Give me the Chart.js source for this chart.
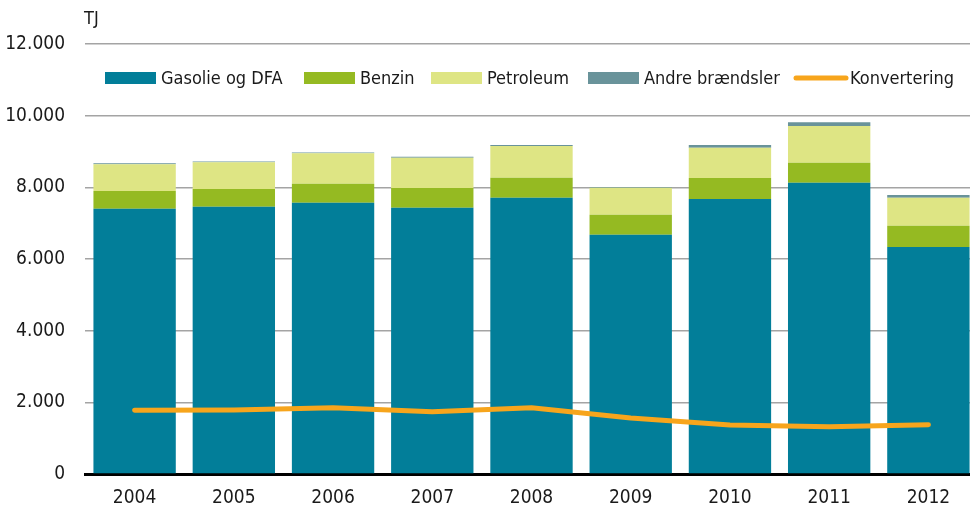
<!DOCTYPE html>
<html>
<head>
<meta charset="utf-8">
<script src="https://cdn.jsdelivr.net/npm/chart.js@4/dist/chart.umd.min.js"></script>
<style>
  html, body { margin: 0; padding: 0; background: #fff; overflow: hidden; }
  #wrap { position: relative; width: 970px; height: 508px; overflow: hidden; }
  #c { display: block; }
</style>
</head>
<body>
<div id="wrap"><canvas id="c" width="978" height="508"></canvas></div>
<script>
const years = ['2004','2005','2006','2007','2008','2009','2010','2011','2012'];
const gasolie = [7404, 7460, 7572, 7432, 7711, 6679, 7675, 8130, 6335];
const benzin = [494, 494, 530, 550, 559, 558, 586, 558, 595];
const petroleum = [745, 745, 848, 846, 884, 754, 846, 1024, 781];
const andre = [30, 25, 25, 25, 25, 15, 75, 104, 75];
const konvertering = [1778, 1786, 1850, 1735, 1850, 1563, 1368, 1321, 1377];
const yTicks = [0, 2000, 4000, 6000, 8000, 10000, 12000];
const unitLabel = 'TJ';

const FONT = "'Liberation Sans Narrow', 'DejaVu Sans Condensed', 'Liberation Sans', sans-serif";
const colors = {
  gasolie: '#027e99',
  benzin: '#95ba22',
  petroleum: '#dee584',
  andre: '#69939a',
  konv: '#f7a51c'
};

function fmt(v) {
  return String(v).replace(/\B(?=(\d{3})+(?!\d))/g, '.');
}

const legendPlugin = {
  id: 'customLegend',
  afterDraw(chart) {
    const ctx = chart.ctx;
    ctx.save();
    ctx.font = '18px ' + FONT;
    ctx.fillStyle = '#1a1a1a';
    ctx.textBaseline = 'middle';
    ctx.textAlign = 'left';
    ctx.fillText(unitLabel, 84, 19);
    const starts = [105, 304, 431, 588, 794];
    const yc = 78;
    chart.data.datasets.forEach((ds, i) => {
      const x = starts[i];
      if (ds.type === 'line') {
        ctx.strokeStyle = ds.borderColor;
        ctx.lineWidth = 5;
        ctx.lineCap = 'round';
        ctx.beginPath();
        ctx.moveTo(x + 2, yc);
        ctx.lineTo(x + 52, yc);
        ctx.stroke();
      } else {
        ctx.fillStyle = ds.backgroundColor;
        ctx.fillRect(x, yc - 6, 51, 12);
      }
      ctx.fillStyle = '#1a1a1a';
      ctx.fillText(ds.label, x + 56, yc + 1);
    });
    ctx.restore();
  }
};

new Chart(document.getElementById('c'), {
  data: {
    labels: years,
    datasets: [
      { type: 'bar', label: 'Gasolie og DFA', data: gasolie, backgroundColor: colors.gasolie, stack: 'bars', order: 1 },
      { type: 'bar', label: 'Benzin', data: benzin, backgroundColor: colors.benzin, stack: 'bars', order: 1 },
      { type: 'bar', label: 'Petroleum', data: petroleum, backgroundColor: colors.petroleum, stack: 'bars', order: 1 },
      { type: 'bar', label: 'Andre brændsler', data: andre, backgroundColor: colors.andre, stack: 'bars', order: 1 },
      { type: 'line', label: 'Konvertering', data: konvertering, borderColor: colors.konv, backgroundColor: colors.konv,
        borderWidth: 5, pointRadius: 0, borderCapStyle: 'round', borderJoinStyle: 'round', tension: 0,
        stack: 'line', order: 0 }
    ]
  },
  options: {
    responsive: false,
    animation: false,
    layout: { padding: { top: 44, right: 0, left: 0, bottom: 0 } },
    plugins: { legend: { display: false }, tooltip: { enabled: false } },
    datasets: { bar: { categoryPercentage: 1, barPercentage: 0.83, borderWidth: 0 } },
    scales: {
      x: {
        stacked: true,
        grid: { display: false, drawTicks: false },
        border: { display: true, color: '#000', width: 3 },
        ticks: { color: '#1a1a1a', font: { family: FONT, size: 19 }, padding: 13 },
        afterFit(scale) { scale.height = 34; }
      },
      y: {
        stacked: true,
        min: 0, max: 12000,
        afterBuildTicks(scale) { scale.ticks = yTicks.map(v => ({ value: v })); },
        grid: { color: '#a4a4a4', lineWidth: 1.5, drawTicks: false },
        border: { display: false },
        ticks: { color: '#1a1a1a', font: { family: FONT, size: 19 }, padding: 20, callback: v => fmt(v) },
        afterFit(scale) { scale.width = 85; }
      }
    }
  },
  plugins: [legendPlugin]
});
</script>
</body>
</html>
